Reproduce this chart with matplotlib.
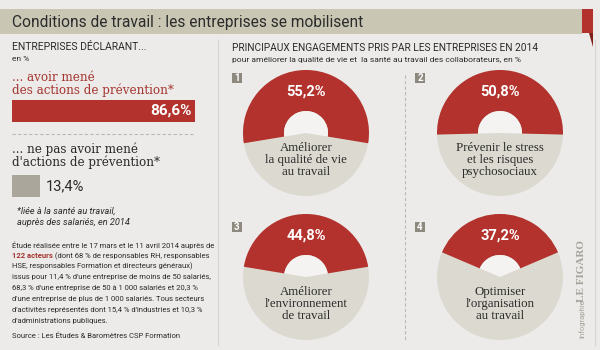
import matplotlib.pyplot as plt
from matplotlib.patches import Rectangle, Polygon

# --- data ---
title = "Conditions de travail : les entreprises se mobilisent"
left_header = "ENTREPRISES DÉCLARANT..."
bar_labels = ["... avoir mené\ndes actions de prévention*",
              "... ne pas avoir mené\nd'actions de prévention*"]
bar_values = [86.6, 13.4]

right_header = "PRINCIPAUX ENGAGEMENTS PRIS PAR LES ENTREPRISES EN 2014"
right_sub = "pour améliorer la qualité de vie et  la santé au travail des collaborateurs, en %"
donut_ranks = ["1", "2", "3", "4"]
donut_values = [55.2, 50.8, 44.8, 37.2]
donut_labels = ["Améliorer\nla qualité de vie\nau travail",
                "Prévenir le stress\net les risques\npsychosociaux",
                "Améliorer\nl'environnement\nde travail",
                "Optimiser\nl'organisation\nau travail"]

note = "*liée à la santé au travail,\nauprès des salariés, en 2014"
method_lines = [
    "Étude réalisée entre le 17 mars et le 11 avril 2014 auprès de",
    " (dont 68 % de responsables RH, responsables",
    "HSE, responsables Formation et directeurs généraux)",
    "issus pour 11,4 % d'une entreprise de moins de 50 salariés,",
    "68,3 % d'une entreprise de 50 à 1 000 salariés et 20,3 %",
    "d'une entreprise de plus de 1 000 salariés. Tous secteurs",
    "d'activités représentés dont 15,4 % d'industries et 10,3 %",
    "d'administrations publiques.",
]
highlight = "122 acteurs"
source = "Source : Les Études & Baromètres CSP Formation"

# --- style ---
BG = "#ecebea"
RED = "#b3322d"
DARKRED = "#7e1f1b"
BEIGE = "#c9c7b4"
DONUT_GREY = "#dcdad0"
SQUARE_GREY = "#aba69c"
BOX_GREY = "#8e897f"
HOLE = "#f4f3f1"
TXT = "#2b2b2b"
SANS = ["Roboto", "DejaVu Sans"]
SERIF = ["Liberation Serif", "DejaVu Serif"]
WIDE_SERIF = ["DejaVu Serif"]

W, H = 600, 350
fig = plt.figure(figsize=(6, 3.5), dpi=100, facecolor=BG)


def px_axes(x0, y0, x1, y1):
    # axes from pixel box (top-left origin)
    return fig.add_axes([x0 / W, 1 - y1 / H, (x1 - x0) / W, (y1 - y0) / H])


ax = px_axes(0, 0, W, H)
ax.set_xlim(0, W)
ax.set_ylim(H, 0)
ax.axis("off")

# title bar
ax.add_patch(Rectangle((0, 9), 582, 25, color=BEIGE, lw=0))
ax.add_patch(Rectangle((582, 9), 11, 24, color=RED, lw=0))
ax.add_patch(Polygon([(589, 33), (593, 33), (593, 47)], color=DARKRED, lw=0))
ax.text(12, 22, title, family=SANS, fontsize=11.2, color=TXT, va="center")

# panel separators
ax.plot([218, 218], [40, 345], color="#d6d5d2", lw=0.8)
ax.plot([595, 595], [40, 345], color="#d6d5d2", lw=0.8)

# left panel
ax.text(12, 47, left_header, family=SANS, fontsize=7.5, color=TXT, va="center")
ax.text(12, 59, "en %", family=SANS, fontsize=6, color=TXT, va="center")
ax.text(12, 84, bar_labels[0], family=WIDE_SERIF, fontsize=8.6, color="#a5352f",
        va="center", linespacing=0.95)
ax.plot([12, 193], [134, 134], color="#b9b9b6", lw=0.8, ls=(0, (3, 2)))
ax.text(12, 156, bar_labels[1], family=WIDE_SERIF, fontsize=8.6, color=TXT,
        va="center", linespacing=0.95)

axb = px_axes(12, 90, 223, 205)
axb.set_xlim(0, 100)
axb.set_ylim(205 - 90, 0)
axb.axis("off")
bar_y = [21, 96]
axb.barh(bar_y, bar_values, height=22, color=[RED, SQUARE_GREY])
axb.text(bar_values[0] - 1.5, bar_y[0], f"{bar_values[0]:.1f}%".replace(".", ","),
         family=SANS, fontsize=11, fontweight="bold", color="white",
         ha="right", va="center")
axb.text(bar_values[1] + 2.5, bar_y[1], f"{bar_values[1]:.1f}%".replace(".", ","),
         family=SANS, fontsize=10.5, color=TXT, ha="left", va="center")

ax.text(17, 216.5, note, family=SANS, fontsize=6.6, style="italic", color=TXT,
        va="center", linespacing=1.35)
y = 245
for i, line in enumerate(method_lines):
    if i == 1:
        t = ax.text(12, y, highlight, family=SANS, fontsize=5.5,
                    fontweight="bold", color="#a5352f", va="center")
        ax.annotate(line, xy=(1, 0.5), xycoords=t, family=SANS, fontsize=5.5,
                    color=TXT, va="center", ha="left")
    else:
        ax.text(12, y, line, family=SANS, fontsize=5.5, color=TXT, va="center")
    y += 10.8
ax.text(12, 336, source, family=SANS, fontsize=5.5, color=TXT, va="center")

# right panel
ax.text(232, 48, right_header, family=SANS, fontsize=7.3, color=TXT, va="center")
ax.text(232, 60, right_sub, family=SANS, fontsize=6.1, color=TXT, va="center")
ax.plot([405, 405], [75, 340], color="#b9b9b6", lw=0.8, ls=(0, (3, 2)))

centers = [(306, 133), (500, 133), (306, 277), (500, 277)]
boxes = [(232, 73), (415, 73), (232, 222), (415, 222)]
R = 63
inner = 22 / 63
for (cx, cy), (bx, by), rank, v, lab in zip(centers, boxes, donut_ranks,
                                            donut_values, donut_labels):
    ax.add_patch(Rectangle((bx, by), 10, 10, color=BOX_GREY, lw=0))
    ax.text(bx + 5, by + 5.3, rank, family=SANS, fontsize=7, fontweight="bold",
            color="white", ha="center", va="center")

    axd = px_axes(cx - R, cy - R, cx + R, cy + R)
    start = 90 - v * 1.8
    axd.pie([1], radius=1, colors=[DONUT_GREY], wedgeprops=dict(lw=0))
    axd.pie([v, 100 - v], radius=1, startangle=start, colors=[RED, "none"],
            wedgeprops=dict(width=1 - inner, lw=0))
    axd.pie([v, 100 - v], radius=inner, startangle=start, colors=[HOLE, "none"],
            wedgeprops=dict(lw=0))
    axd.set_xlim(-1, 1)
    axd.set_ylim(-1, 1)
    axd.axis("off")
    axd.text(0, 0.65, f"{v:.1f}%".replace(".", ","), family=SANS, fontsize=10.5,
             fontweight="bold", color="white", ha="center", va="center")
    axd.text(0, -0.43, lab, family=SERIF, fontsize=9.3, color=TXT,
             ha="center", va="center", linespacing=1.0)

# credit
ax.text(582, 338, "Infographie", family=SANS, fontsize=5.5, color="#a6a39b",
        rotation=90, ha="center", va="bottom")
ax.text(582, 302, "LE FIGARO", family=SERIF, fontsize=8, fontweight="bold",
        color="#a6a39b", rotation=90, ha="center", va="bottom")

fig.savefig("out.png", dpi=100, facecolor=BG)
